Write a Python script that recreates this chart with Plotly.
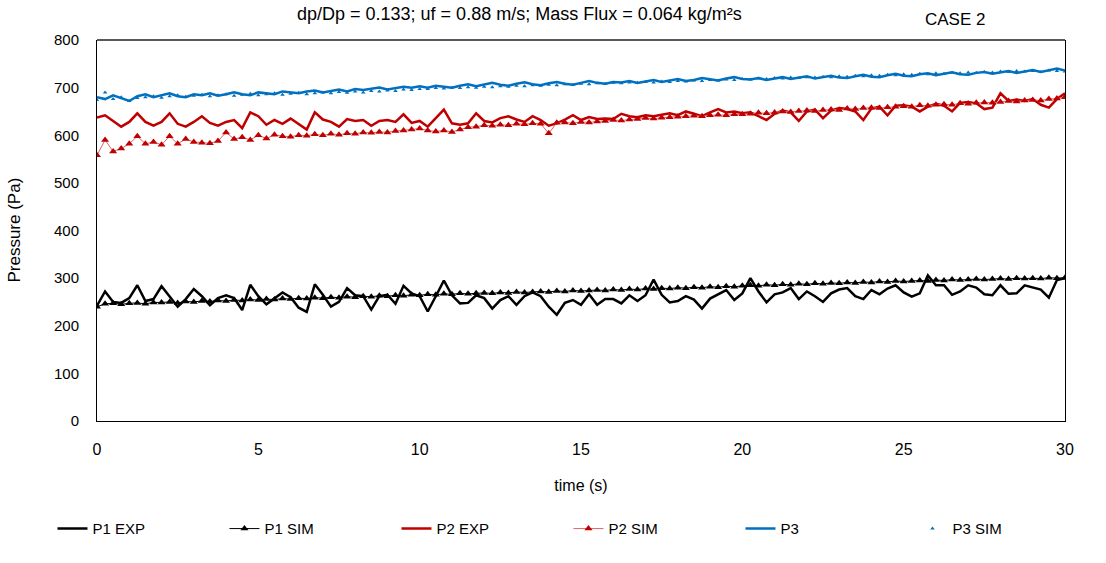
import plotly.graph_objects as go

# time axis (s), 0.25 s sampling
time_s = [round(i * 0.25, 2) for i in range(121)]

p1_exp = [242, 272, 250, 248, 258, 285, 252, 256, 283, 262, 240, 256, 277, 262, 243, 258, 264, 258, 233, 286,
          262, 245, 258, 270, 260, 238, 229, 287, 265, 240, 250, 279, 264, 262, 234, 262, 265, 246, 284, 268, 262,
          230, 262, 295, 264, 247, 248, 264, 258, 236, 254, 262, 244, 262, 270, 262, 240, 223, 248, 254, 244,
          266, 244, 256, 256, 247, 264, 252, 264, 297, 265, 249, 252, 262, 255, 236, 257, 266, 275, 254, 268,
          300, 272, 249, 266, 270, 279, 256, 272, 262, 250, 268, 276, 279, 262, 256, 275, 266, 278, 285, 270,
          261, 268, 306, 285, 285, 265, 272, 285, 280, 266, 264, 285, 267, 268, 285, 280, 276, 259, 296, 300]

p1_sim = [240, 246, 247, 245, 247, 248, 246, 249, 249, 250, 248, 251, 250, 252, 251, 253, 252, 254, 253, 255,
          254, 256, 255, 257, 256, 258, 257, 259, 258, 260, 259, 261, 260, 262, 261, 263, 262, 264, 263, 265, 264,
          266, 265, 267, 266, 268, 267, 268, 269, 268, 270, 269, 271, 270, 271, 272, 271, 273, 272, 274, 273,
          274, 275, 274, 276, 275, 277, 276, 278, 277, 279, 278, 280, 279, 281, 280, 282, 281, 283, 282, 284,
          285, 284, 286, 285, 287, 286, 288, 287, 289, 288, 290, 289, 291, 290, 292, 291, 293, 292, 294, 293,
          294, 295, 294, 296, 295, 297, 296, 297, 298, 297, 298, 299, 298, 300, 299, 300, 299, 301, 300, 301]

p2_exp = [637, 642, 630, 618, 628, 646, 628, 620, 628, 646, 624, 618, 628, 640, 626, 620, 628, 632, 615, 648,
          640, 622, 632, 624, 635, 624, 612, 648, 633, 628, 618, 634, 630, 632, 620, 630, 632, 628, 644, 626, 630,
          618, 635, 654, 625, 622, 625, 646, 630, 627, 636, 640, 633, 628, 640, 632, 620, 625, 633, 642, 632,
          638, 634, 635, 634, 645, 640, 638, 642, 640, 643, 646, 642, 650, 645, 640, 648, 655, 648, 650, 646,
          648, 640, 632, 645, 652, 648, 630, 650, 654, 636, 652, 657, 655, 650, 632, 656, 660, 642, 662, 663,
          660, 650, 660, 666, 662, 650, 668, 670, 667, 655, 658, 688, 672, 675, 672, 676, 664, 658, 676, 688]

p2_sim = [558, 590, 566, 572, 582, 598, 582, 586, 580, 598, 582, 592, 586, 584, 583, 588, 606, 592, 596, 590,
          600, 593, 601, 598, 597, 600, 599, 602, 600, 603, 601, 604, 603, 606, 605, 607, 606, 609, 610, 612, 614,
          610, 608, 610, 607, 612, 617, 618, 621, 620, 622, 621, 624, 623, 625, 624, 604, 626, 627, 625, 628,
          627, 629, 630, 632, 631, 633, 634, 636, 635, 637, 638, 639, 640, 641, 640, 642, 643, 642, 644, 644,
          645, 647, 646, 648, 650, 649, 651, 652, 651, 653, 654, 653, 656, 655, 657, 658, 657, 659, 660, 661,
          660, 663, 662, 664, 665, 664, 667, 666, 668, 669, 668, 670, 672, 671, 673, 674, 673, 676, 677, 680]

p3_exp = [680, 676, 684, 678, 672, 682, 686, 680, 684, 688, 682, 680, 686, 684, 688, 683, 686, 690, 686, 684,
          690, 688, 686, 692, 690, 688, 692, 694, 690, 693, 696, 692, 697, 695, 698, 700, 696, 699, 702, 700, 703,
          700, 704, 702, 700, 704, 707, 703, 706, 710, 706, 704, 708, 711, 707, 705, 709, 712, 708, 706, 710,
          714, 710, 708, 712, 711, 714, 710, 713, 716, 712, 715, 718, 714, 716, 720, 717, 715, 719, 722, 718,
          717, 720, 716, 719, 722, 718, 721, 724, 719, 722, 725, 721, 720, 724, 727, 723, 722, 726, 729, 725,
          724, 728, 730, 726, 729, 732, 728, 727, 731, 733, 729, 732, 735, 731, 734, 737, 733, 736, 740, 736]

p3_sim = [674, 690, 676, 680, 672, 678, 680, 682, 679, 682, 684, 681, 683, 685, 682, 684, 686, 683, 685, 687,
          684, 686, 688, 685, 687, 689, 686, 688, 690, 688, 691, 689, 692, 690, 693, 692, 694, 693, 696, 695, 697,
          697, 699, 698, 700, 699, 701, 700, 702, 701, 703, 702, 704, 703, 705, 704, 706, 705, 707, 706, 708,
          707, 709, 708, 710, 709, 711, 710, 712, 711, 713, 712, 714, 713, 715, 714, 716, 715, 717, 716, 718,
          717, 719, 718, 720, 719, 721, 720, 722, 721, 723, 722, 724, 723, 725, 724, 726, 725, 727, 726, 728,
          727, 729, 728, 730, 729, 731, 730, 732, 731, 733, 732, 734, 733, 735, 734, 735, 733, 736, 735, 734]

x_ticks = [0, 5, 10, 15, 20, 25, 30]
y_ticks = [0, 100, 200, 300, 400, 500, 600, 700, 800]

FONT = "Liberation Sans, Arial, sans-serif"
BLACK = "#000000"
RED = "#c00000"
BLUE = "#0070c0"

fig = go.Figure()
fig.add_trace(go.Scatter(x=time_s, y=p1_exp, mode="lines", name="P1 EXP",
                         line=dict(color=BLACK, width=2.5)))
fig.add_trace(go.Scatter(x=time_s, y=p1_sim, mode="lines+markers", name="P1 SIM",
                         line=dict(color=BLACK, width=1),
                         marker=dict(symbol="triangle-up", size=7, color=BLACK)))
fig.add_trace(go.Scatter(x=time_s, y=p2_exp, mode="lines", name="P2 EXP",
                         line=dict(color=RED, width=2.5)))
fig.add_trace(go.Scatter(x=time_s, y=p2_sim, mode="lines+markers", name="P2 SIM",
                         line=dict(color="#e06666", width=1),
                         marker=dict(symbol="triangle-up", size=7, color=RED)))
fig.add_trace(go.Scatter(x=time_s, y=p3_exp, mode="lines", name="P3",
                         line=dict(color=BLUE, width=2.5)))
fig.add_trace(go.Scatter(x=time_s, y=p3_sim, mode="markers", name="P3 SIM",
                         marker=dict(symbol="triangle-up", size=4, color=BLUE)))

fig.update_layout(
    width=1106, height=563,
    margin=dict(l=97, r=41, t=40, b=142, autoexpand=False),
    paper_bgcolor="white", plot_bgcolor="white",
    font=dict(family=FONT, size=15, color="#000000"),
    showlegend=True,
    legend=dict(orientation="h", x=-0.046, xanchor="left", y=-0.283, yanchor="middle",
                entrywidth=127, entrywidthmode="pixels",
                font=dict(family=FONT, size=15, color="#000000"),
                tracegroupgap=0),
    xaxis=dict(range=[0, 30], tickvals=x_ticks, showgrid=False, zeroline=False,
               showline=True, linecolor=BLACK, linewidth=1, ticks="", automargin=False,
               ticklabelstandoff=14, tickfont=dict(size=16),
               title=dict(text="time (s)", font=dict(size=16), standoff=22)),
    yaxis=dict(range=[0, 800], tickvals=y_ticks, showgrid=False, zeroline=False,
               showline=True, linecolor=BLACK, linewidth=1, mirror=True, automargin=False,
               ticks="", ticklabelstandoff=14, tickfont=dict(size=15)),
    shapes=[dict(type="line", xref="paper", yref="paper", x0=0, x1=1, y0=1, y1=1,
                 line=dict(color="#595959", width=2))],
    annotations=[
        dict(text="dp/Dp = 0.133; uf = 0.88 m/s; Mass Flux = 0.064 kg/m²s",
             xref="paper", yref="paper", x=0.436, y=1.068, xanchor="center", yanchor="middle",
             showarrow=False, font=dict(size=18)),
        dict(text="CASE 2", xref="paper", yref="paper", x=0.886, y=1.055,
             xanchor="center", yanchor="middle", showarrow=False, font=dict(size=17)),
        dict(text="Pressure (Pa)", xref="paper", yref="paper", x=-0.0857, y=0.5,
             xanchor="center", yanchor="middle", textangle=-90, showarrow=False,
             font=dict(size=17)),
    ],
)

fig.write_html("out.html")
